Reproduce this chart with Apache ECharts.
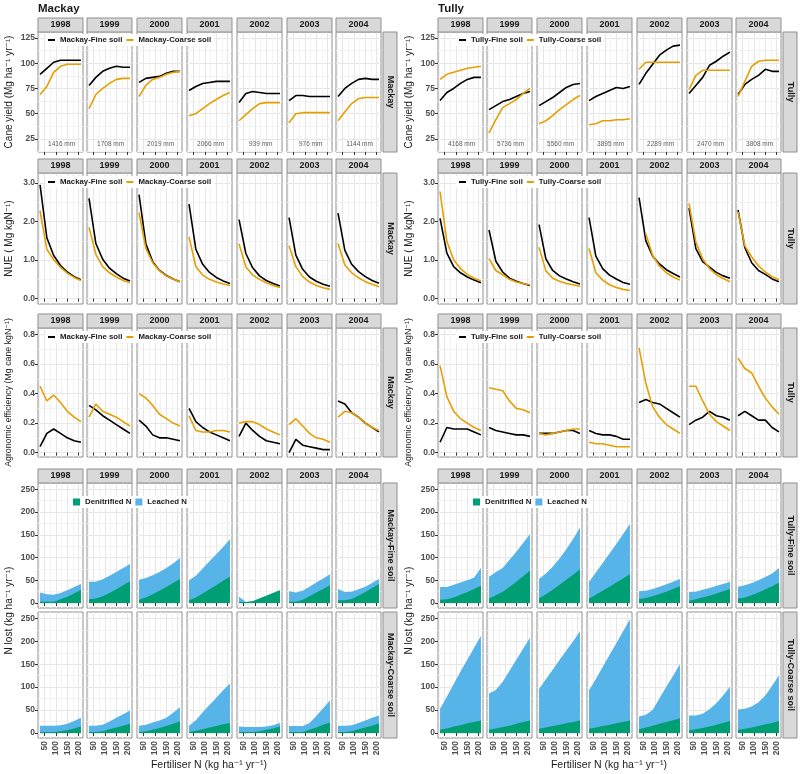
<!DOCTYPE html>
<html>
<head>
<meta charset="utf-8">
<script src="https://cdn.jsdelivr.net/npm/echarts@6/dist/echarts.min.js"></script>
<style>
html, body { margin: 0; padding: 0; background: #fff; }
#chart { width: 800px; height: 774px; }
</style>
</head>
<body>
<div id="chart"></div>
<script>
// ---- data ----
const years = ['1998', '1999', '2000', '2001', '2002', '2003', '2004'];
const nRates = [30, 60, 90, 120, 150, 180, 210]; // fertiliser N, kg/ha
const rainMackay = ['1416 mm', '1708 mm', '2019 mm', '2066 mm', '939 mm', '976 mm', '1144 mm'];
const rainTully = ['4168 mm', '5736 mm', '5560 mm', '3895 mm', '2289 mm', '2470 mm', '3808 mm'];

// cane yield (Mg/ha/yr)
const mackayYieldFine = [
  [89, 95, 101, 103, 103, 103, 103], [78, 86, 92, 95, 97, 96, 96], [81, 85, 86, 87, 90, 92, 92],
  [73, 77, 80, 81, 82, 82, 82], [61, 70, 72, 71, 70, 70, 70], [63, 68, 68, 67, 67, 67, 67],
  [67, 75, 80, 84, 85, 84, 84]
];
const mackayYieldCoarse = [
  [69, 77, 91, 97, 99, 99, 99], [55, 69, 75, 80, 84, 85, 85], [67, 78, 84, 86, 89, 91, 92],
  [48, 50, 55, 60, 64, 68, 71], [43, 49, 55, 60, 61, 61, 61], [41, 50, 51, 51, 51, 51, 51],
  [43, 52, 60, 65, 66, 66, 66]
];
const tullyYieldFine = [
  [63, 71, 75, 80, 84, 86, 86], [54, 58, 62, 64, 67, 70, 72], [58, 62, 66, 71, 76, 79, 80],
  [63, 67, 70, 73, 76, 75, 77], [79, 90, 99, 108, 113, 117, 118], [70, 78, 86, 98, 102, 107, 111],
  [69, 79, 84, 88, 94, 92, 92]
];
const tullyYieldCoarse = [
  [84, 89, 91, 93, 95, 96, 97], [31, 44, 56, 60, 64, 70, 75], [40, 43, 48, 54, 59, 64, 68],
  [39, 40, 43, 43, 44, 44, 45], [94, 101, 101, 101, 101, 101, 101], [74, 88, 93, 93, 93, 93, 93],
  [67, 82, 97, 102, 103, 103, 103]
];

// NUE (Mg/kgN)
const mackayNueFine = [
  [2.95, 1.58, 1.12, 0.86, 0.69, 0.57, 0.49], [2.6, 1.43, 1.02, 0.79, 0.65, 0.53, 0.46],
  [2.7, 1.42, 0.96, 0.73, 0.6, 0.51, 0.44], [2.45, 1.28, 0.89, 0.68, 0.55, 0.46, 0.39],
  [2.05, 1.17, 0.8, 0.59, 0.47, 0.39, 0.33], [2.1, 1.13, 0.76, 0.56, 0.45, 0.37, 0.32],
  [2.22, 1.25, 0.89, 0.7, 0.57, 0.47, 0.4]
];
const mackayNueCoarse = [
  [2.28, 1.28, 1.01, 0.81, 0.66, 0.55, 0.47], [1.85, 1.15, 0.83, 0.67, 0.56, 0.47, 0.41],
  [2.23, 1.3, 0.93, 0.72, 0.59, 0.51, 0.44], [1.6, 0.83, 0.61, 0.5, 0.43, 0.38, 0.34],
  [1.42, 0.82, 0.61, 0.5, 0.41, 0.34, 0.29], [1.37, 0.83, 0.57, 0.43, 0.34, 0.28, 0.24],
  [1.43, 0.87, 0.67, 0.54, 0.44, 0.37, 0.31]
];
const tullyNueFine = [
  [2.08, 1.18, 0.83, 0.67, 0.56, 0.48, 0.41], [1.78, 0.97, 0.69, 0.53, 0.45, 0.39, 0.34],
  [1.92, 1.03, 0.73, 0.59, 0.51, 0.44, 0.38], [2.1, 1.1, 0.78, 0.61, 0.51, 0.42, 0.37],
  [2.62, 1.5, 1.1, 0.9, 0.75, 0.65, 0.56], [2.35, 1.3, 0.96, 0.82, 0.68, 0.59, 0.53],
  [2.3, 1.32, 0.93, 0.73, 0.63, 0.51, 0.44]
];
const tullyNueCoarse = [
  [2.78, 1.48, 1.01, 0.78, 0.63, 0.53, 0.46], [1.04, 0.73, 0.62, 0.5, 0.43, 0.39, 0.36],
  [1.33, 0.72, 0.53, 0.45, 0.39, 0.36, 0.32], [1.3, 0.67, 0.48, 0.36, 0.29, 0.24, 0.21],
  [null, 1.68, 1.12, 0.84, 0.67, 0.56, 0.48], [2.47, 1.47, 1.03, 0.78, 0.62, 0.52, 0.44],
  [2.25, 1.37, 1.08, 0.85, 0.69, 0.57, 0.49]
];

// agronomic efficiency (Mg cane/kgN)
const mackayAeFine = [
  [0.04, 0.13, 0.16, 0.13, 0.1, 0.08, 0.07], [0.32, 0.29, 0.25, 0.22, 0.19, 0.16, 0.13],
  [0.22, 0.18, 0.12, 0.1, 0.1, 0.09, 0.08], [0.3, 0.21, 0.17, 0.14, 0.12, 0.1, 0.08],
  [0.11, 0.2, 0.15, 0.11, 0.08, 0.07, 0.06], [0.0, 0.09, 0.05, 0.04, 0.03, 0.02, 0.02],
  [0.35, 0.33, 0.27, 0.24, 0.2, 0.17, 0.14]
];
const mackayAeCoarse = [
  [0.45, 0.35, 0.39, 0.34, 0.28, 0.24, 0.21], [0.24, 0.33, 0.28, 0.26, 0.24, 0.21, 0.18],
  [0.4, 0.37, 0.32, 0.26, 0.23, 0.2, 0.18], [0.25, 0.15, 0.14, 0.14, 0.15, 0.15, 0.14],
  [0.2, 0.21, 0.21, 0.19, 0.16, 0.14, 0.12], [0.19, 0.23, 0.18, 0.13, 0.1, 0.09, 0.07],
  [0.24, 0.28, 0.27, 0.24, 0.2, 0.17, 0.15]
];
const tullyAeFine = [
  [0.07, 0.17, 0.16, 0.16, 0.16, 0.14, 0.12], [0.17, 0.15, 0.14, 0.13, 0.12, 0.12, 0.11],
  [0.13, 0.13, 0.13, 0.14, 0.15, 0.15, 0.13], [0.15, 0.13, 0.12, 0.12, 0.11, 0.09, 0.09],
  [0.34, 0.36, 0.34, 0.33, 0.3, 0.27, 0.24], [0.19, 0.22, 0.24, 0.28, 0.25, 0.24, 0.22],
  [0.25, 0.28, 0.25, 0.22, 0.22, 0.17, 0.14]
];
const tullyAeCoarse = [
  [0.59, 0.38, 0.28, 0.23, 0.2, 0.17, 0.15], [0.44, 0.43, 0.42, 0.35, 0.3, 0.29, 0.27],
  [0.13, 0.12, 0.13, 0.14, 0.15, 0.16, 0.16], [0.07, 0.06, 0.06, 0.05, 0.04, 0.04, 0.04],
  [0.71, 0.47, 0.31, 0.24, 0.19, 0.16, 0.13], [0.45, 0.45, 0.35, 0.26, 0.21, 0.18, 0.15],
  [0.64, 0.57, 0.54, 0.45, 0.37, 0.31, 0.26]
];

// N lost (kg/ha/yr): denitrified and leached
const mackayFineDenit = [
  [3, 3, 3, 8, 14, 21, 29], [8, 10, 15, 22, 30, 39, 48], [7, 12, 19, 27, 35, 44, 53],
  [6, 12, 21, 30, 39, 49, 58], [2, 2, 4, 10, 16, 22, 28], [3, 3, 7, 15, 23, 31, 39],
  [6, 6, 9, 16, 24, 33, 42]
];
const mackayFineLeach = [
  [20, 16, 15, 14, 14, 14, 13], [39, 37, 37, 38, 38, 38, 38], [44, 43, 42, 41, 42, 43, 46],
  [44, 48, 55, 62, 68, 74, 82], [12, 0, 0, 0, 0, 0, 0], [23, 20, 20, 21, 22, 23, 24],
  [25, 18, 16, 14, 12, 11, 11]
];
const mackayCoarseDenit = [
  [2, 2, 2, 4, 6, 10, 14], [2, 2, 4, 8, 12, 16, 20], [2, 4, 7, 11, 15, 20, 25],
  [2, 5, 8, 12, 15, 19, 22], [2, 2, 2, 4, 7, 10, 14], [2, 2, 2, 7, 12, 18, 23],
  [2, 2, 4, 8, 12, 16, 21]
];
const mackayCoarseLeach = [
  [14, 14, 14, 13, 14, 16, 19], [14, 14, 14, 17, 21, 25, 29], [14, 14, 16, 16, 18, 24, 31],
  [14, 23, 37, 49, 62, 74, 86], [12, 11, 11, 9, 7, 7, 8], [13, 13, 13, 15, 25, 36, 48],
  [14, 14, 13, 14, 15, 17, 17]
];
const tullyFineDenit = [
  [7, 8, 12, 18, 24, 31, 38], [10, 17, 25, 35, 47, 59, 71], [10, 19, 29, 40, 51, 62, 74],
  [10, 18, 27, 36, 45, 54, 64], [9, 11, 15, 20, 25, 31, 37], [5, 8, 12, 16, 21, 26, 31],
  [10, 12, 17, 23, 30, 37, 45]
];
const tullyFineLeach = [
  [28, 27, 28, 27, 26, 25, 39], [48, 51, 52, 60, 66, 73, 80], [43, 46, 51, 58, 67, 79, 92],
  [37, 49, 61, 73, 85, 98, 110], [17, 16, 16, 16, 16, 16, 16], [19, 17, 17, 17, 17, 16, 16],
  [26, 27, 27, 27, 27, 28, 32]
];
const tullyCoarseDenit = [
  [7, 10, 14, 17, 21, 24, 27], [7, 10, 13, 16, 20, 24, 27], [9, 12, 15, 18, 21, 24, 27],
  [9, 12, 15, 18, 21, 24, 27], [8, 12, 16, 20, 24, 28, 32], [6, 8, 11, 14, 18, 22, 26],
  [7, 9, 12, 15, 19, 22, 26]
];
const tullyCoarseLeach = [
  [46, 69, 93, 117, 139, 162, 185], [79, 84, 99, 120, 140, 160, 181], [87, 105, 123, 141, 159, 176, 195],
  [84, 106, 129, 152, 175, 198, 221], [28, 28, 34, 56, 77, 97, 118], [32, 30, 31, 38, 47, 60, 75],
  [44, 44, 46, 52, 63, 81, 100]
];

// ---- styling ----
const FONT = '"Liberation Sans", Arial, "DejaVu Sans", sans-serif';
const BLACK = '#000000';
const ORANGE = '#E69F00';
const GREEN = '#009E73';
const BLUE = '#56B4E9';
const BORDER = '#8f8f8f';

const sites = [
  {
    name: 'Mackay', dx: 0, rain: rainMackay,
    fine: [mackayYieldFine, mackayNueFine, mackayAeFine],
    coarse: [mackayYieldCoarse, mackayNueCoarse, mackayAeCoarse],
    loss: [[mackayFineDenit, mackayFineLeach], [mackayCoarseDenit, mackayCoarseLeach]]
  },
  {
    name: 'Tully', dx: 400, rain: rainTully,
    fine: [tullyYieldFine, tullyNueFine, tullyAeFine],
    coarse: [tullyYieldCoarse, tullyNueCoarse, tullyAeCoarse],
    loss: [[tullyFineDenit, tullyFineLeach], [tullyCoarseDenit, tullyCoarseLeach]]
  }
];

const rows = [
  { top: 32, h: 120, min: 12, max: 131, step: 25, ticks: [25, 50, 75, 100, 125], dec: 0 },
  { top: 173, h: 131, min: -0.14, max: 3.26, step: 1, ticks: [0, 1, 2, 3], dec: 1 },
  { top: 328, h: 129, min: -0.03, max: 0.845, step: 0.2, ticks: [0, 0.2, 0.4, 0.6, 0.8], dec: 1 },
  { top: 483, h: 125, min: -11, max: 264, step: 50, ticks: [0, 50, 100, 150, 200, 250], dec: 0 },
  { top: 612, h: 126, min: -11, max: 264, step: 50, ticks: [0, 50, 100, 150, 200, 250], dec: 0 }
];
const yTitles = [
  'Cane yield (Mg ha⁻¹ yr⁻¹)',
  'NUE ( Mg kgN⁻¹)',
  'Agronomic efficiency (Mg cane kgN⁻¹)'
];
const xTicks = [50, 100, 150, 200];
const panelW = 45;

const option = {
  animation: false,
  backgroundColor: '#fff',
  grid: [], xAxis: [], yAxis: [], series: [], legend: [], graphic: []
};

function toPoints(vals) {
  return nRates.map((n, i) => [n, vals[i]]);
}

function addText(x, y, text, size, opts) {
  option.graphic.push(Object.assign({
    type: 'text', x: x, y: y, silent: true, z: 20,
    style: {
      text: text, fill: '#1a1a1a', align: (opts && opts.align) || 'center', verticalAlign: 'middle',
      font: (opts && opts.weight ? opts.weight + ' ' : '') + size + 'px ' + FONT
    }
  }, opts && opts.rotation !== undefined ? { rotation: opts.rotation } : {}));
}

function addStrip(x, y, w, h, text, vertical) {
  option.graphic.push({
    type: 'rect', silent: true, z: 19,
    shape: { x: x, y: y, width: w, height: h },
    style: { fill: '#d9d9d9', stroke: BORDER, lineWidth: 1 }
  });
  addText(x + w / 2, y + h / 2, text, 9, { weight: 'bold', rotation: vertical ? -Math.PI / 2 : undefined });
}

sites.forEach(site => {
  const fineName = site.name + '-Fine soil';
  const coarseName = site.name + '-Coarse soil';

  addText(site.dx + 38, 9, site.name, 11.5, { weight: 'bold', align: 'left' });

  rows.forEach((row, r) => {
    years.forEach((yr, j) => {
      const gi = option.grid.length;
      const left = site.dx + Math.round(37.5 + j * 49.8);
      option.grid.push({
        left: left, top: row.top, width: panelW, height: row.h,
        show: true, backgroundColor: '#fff', borderColor: BORDER, borderWidth: 1
      });
      option.xAxis.push({
        gridIndex: gi, type: 'value', min: 21, max: 219,
        minInterval: 50, maxInterval: 50,
        axisLine: { show: false },
        axisTick: { show: true, length: 3, customValues: xTicks, lineStyle: { color: '#333' } },
        axisLabel: {
          show: r === 4, customValues: xTicks, rotate: 90, margin: 3,
          fontSize: 8.5, fontWeight: 'bold', color: '#4d4d4d', fontFamily: FONT
        },
        splitLine: { show: true, lineStyle: { color: '#e6e6e6', width: 1 } },
        minorTick: { show: false, splitNumber: 2 },
        minorSplitLine: { show: true, lineStyle: { color: '#f3f3f3', width: 1 } }
      });
      option.yAxis.push({
        gridIndex: gi, type: 'value', min: row.min, max: row.max,
        minInterval: row.step, maxInterval: row.step,
        axisLine: { show: false },
        axisTick: { show: j === 0, length: 3, customValues: row.ticks, lineStyle: { color: '#333' } },
        axisLabel: {
          show: j === 0, customValues: row.ticks, margin: 3,
          formatter: v => Number(v).toFixed(row.dec),
          fontSize: 8.5, fontWeight: 'bold', color: '#4d4d4d', fontFamily: FONT
        },
        splitLine: { show: true, lineStyle: { color: '#e6e6e6', width: 1 } },
        minorTick: { show: false, splitNumber: 2 },
        minorSplitLine: { show: true, lineStyle: { color: '#f3f3f3', width: 1 } }
      });

      if (r < 3) {
        [[fineName, BLACK, site.fine[r][j]], [coarseName, ORANGE, site.coarse[r][j]]].forEach(s => {
          option.series.push({
            type: 'line', name: s[0], xAxisIndex: gi, yAxisIndex: gi,
            data: toPoints(s[2]), symbol: 'none', clip: true, z: 3,
            itemStyle: { color: s[1] }, lineStyle: { color: s[1], width: 1.6 }
          });
        });
        if (r === 0) {
          option.series.push({
            type: 'scatter', xAxisIndex: gi, yAxisIndex: gi, symbolSize: 0, silent: true,
            data: [[125, 19.5, site.rain[j]]],
            label: {
              show: true, position: 'inside', formatter: p => p.data[2],
              fontSize: 6.5, color: '#333', fontFamily: FONT
            }
          });
        }
      } else {
        // leached N sits on top of denitrified N: draw the total in blue, the denitrified part in green over it
        const denit = site.loss[r - 3][0][j];
        const leach = site.loss[r - 3][1][j];
        const total = denit.map((d, i) => d + leach[i]);
        [['Leached N', BLUE, total, 3], ['Denitrified N', GREEN, denit, 4]].forEach(s => {
          option.series.push({
            type: 'line', name: s[0], xAxisIndex: gi, yAxisIndex: gi,
            data: toPoints(s[2]), symbol: 'none', clip: true, z: s[3],
            itemStyle: { color: s[1] }, lineStyle: { width: 0, color: s[1] },
            areaStyle: { color: s[1], opacity: 1 }
          });
        });
      }

      if (r < 4) addStrip(left, row.top - 14, panelW, 14, yr, false);
    });

    // right-hand strip
    const stripX = site.dx + Math.round(37.5 + 6 * 49.8) + panelW + 2;
    let label = site.name;
    if (r === 3) label = fineName;
    if (r === 4) label = coarseName;
    addStrip(stripX, row.top, 14, row.h, label, true);

    if (r < 3) addText(site.dx + 9, row.top + row.h / 2, yTitles[r], r === 2 ? 8.8 : 10, { rotation: Math.PI / 2 });
  });

  addText(site.dx + 9, (rows[3].top + rows[4].top + rows[4].h) / 2, 'N lost (kg ha⁻¹ yr⁻¹)', 10, { rotation: Math.PI / 2 });
  addText(site.dx + 209, 765, 'Fertiliser N (kg ha⁻¹ yr⁻¹)', 10.5);

  // legends
  const lineLegendTops = [34, 176, 331];
  lineLegendTops.forEach(t => {
    option.legend.push({
      left: site.dx + (site.dx ? 56 : 45), top: t,
      data: [fineName, coarseName], icon: 'rect', itemWidth: 7, itemHeight: 2, itemGap: 4,
      padding: [2, 3], backgroundColor: '#fff', selectedMode: false, z: 10,
      textStyle: { fontSize: 7.8, fontWeight: 'bold', color: '#1a1a1a', fontFamily: FONT }
    });
  });
  option.legend.push({
    left: site.dx + 70, top: 496,
    data: ['Denitrified N', 'Leached N'], icon: 'rect', itemWidth: 7, itemHeight: 7, itemGap: 4,
    padding: [2, 3], backgroundColor: '#fff', selectedMode: false, z: 10,
    textStyle: { fontSize: 7.8, fontWeight: 'bold', color: '#1a1a1a', fontFamily: FONT }
  });
});

const chart = echarts.init(document.getElementById('chart'), null, { renderer: 'canvas' });
chart.setOption(option);
</script>
</body>
</html>
